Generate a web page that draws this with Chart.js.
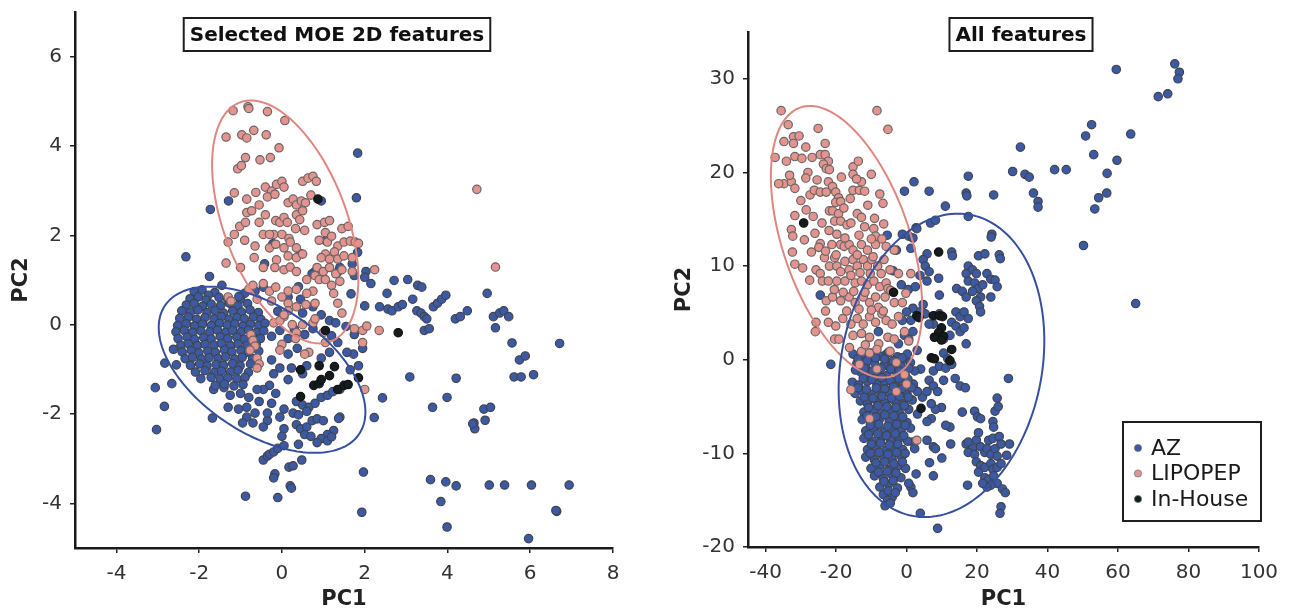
<!DOCTYPE html>
<html>
<head>
<meta charset="utf-8">
<title>PCA of compound sets</title>
<script src="https://cdn.jsdelivr.net/npm/chart.js@4.4.1/dist/chart.umd.min.js"></script>
<style>
  html, body { margin: 0; padding: 0; background: #fff; }
  #wrap { position: relative; width: 1289px; height: 612px; }
  .panel { position: absolute; top: 0; height: 612px; }
</style>
</head>
<body>
<div id="wrap">
  <div class="panel" style="left:0;width:640px"><canvas id="leftChart"></canvas></div>
  <div class="panel" style="left:640px;width:649px"><canvas id="rightChart"></canvas></div>
</div>
<script>
// ---- data: [PC1, PC2] ----
const seriesNames = ['AZ', 'LIPOPEP', 'In-House'];

const leftXTicks = [-4, -2, 0, 2, 4, 6, 8];
const leftYTicks = [-4, -2, 0, 2, 4, 6];
const rightXTicks = [-40, -20, 0, 20, 40, 60, 80, 100];
const rightYTicks = [-20, -10, 0, 10, 20, 30];

// ellipse = [centre, half-axis u, half-axis v] in data units
const leftLipoEllipse = [[0.08, 2.3], [-0.83, 2.72], [1.56, 0]];
const leftAZEllipse = [[-0.48, -1.01], [-1.27, 1.86], [2.15, 0]];
const rightLipoEllipse = [[-17.05, 12.6], [-10.35, 14.5], [18.8, 0]];
const rightAZEllipse = [[9.9, -0.6], [4.7, 16.2], [28.8, 0]];

const leftAZ = [
  [1.83,3.84],[1.80,2.84],[-1.73,2.58],[-1.29,2.77],[-2.32,1.52],[-1.75,1.08],[-1.45,0.88],
  [2.71,0.99],[3.04,1.01],[3.28,0.88],[3.38,0.84],[2.03,1.19],[2.15,0.92],[2.54,0.70],
  [2.36,0.40],[2.56,0.35],[2.66,0.31],[2.81,0.40],[2.91,0.45],[3.16,0.57],
  [3.26,0.31],[3.36,0.26],[3.44,0.18],[3.50,0.13],
  [3.66,0.40],[3.76,0.48],[3.86,0.57],[3.96,0.66],[3.44,-0.13],[3.56,-0.09],
  [4.19,0.13],[4.31,0.18],[4.48,0.31],[4.96,0.70],
  [5.11,0.18],[5.26,0.26],[5.36,0.31],[5.48,0.18],[5.16,-0.07],[5.56,-0.41],[6.71,-0.42],
  [5.74,-0.79],[5.88,-0.70],[5.61,-1.17],[5.78,-1.17],[6.08,-1.12],
  [4.21,-1.20],[3.09,-1.17],[3.64,-1.85],[3.99,-1.63],
  [4.64,-2.20],[4.66,-2.33],[4.91,-2.14],[4.61,-2.22],[4.88,-1.89],[5.04,-1.85],
  [2.43,-1.64],[2.23,-2.08],[1.97,-3.30],[1.93,-4.20],
  [3.59,-3.47],[3.96,-3.52],[4.21,-3.61],[5.01,-3.59],[5.38,-3.59],[6.03,-3.59],[6.94,-3.59],
  [3.84,-3.96],[3.99,-4.53],[6.64,-4.18],[6.62,-4.16],[5.96,-4.79],
  [-0.88,-3.84],[-0.10,-3.87],[0.20,-3.61],[0.23,-3.66],
  [-0.17,-3.34],[-0.20,-3.43],[0.17,-3.19],[0.27,-3.16],[0.48,-3.03],
  [-0.45,-3.03],[-0.35,-2.94],[-0.30,-2.90],[-0.20,-2.85],[-0.10,-2.77],[0.05,-2.71],[0.40,-2.68],
  [-3.06,-1.41],[-3.03,-2.35],[-2.84,-1.83],[-2.83,-0.86],[-2.66,-1.32],[-1.68,-2.09],
  [0.95,2.77],[1.10,1.93],[1.40,1.28],[1.70,1.36],[1.75,1.10],[2.00,1.06],[0.80,1.19],
  [-0.42,1.36],[-0.22,1.81],[0.44,1.59],[0.73,1.14],[1.06,1.88],[1.34,1.17],[1.83,1.62],[1.67,0.69],[2.00,0.42],
  [-0.45,0.84],[-0.65,0.75],[-0.90,0.70],[-1.00,0.57],[0.15,0.62],[0.45,0.57],[0.75,0.40],[0.50,0.26],
  [0.95,0.22],[1.15,0.09],[0.75,-0.09],[0.55,-0.22],[1.30,0.04],[1.55,-0.04],[1.75,-0.22],
  [1.95,-0.53],[1.73,-0.66],[1.85,-0.92],[1.20,-0.25],[0.30,-0.10],[-0.10,0.30],[0.40,0.85],
  [-0.05,-0.13],[-0.25,-0.26],[0.15,-0.31],[0.37,-0.53],[0.15,-0.66],[-0.25,-0.79],[-0.05,-0.97],
  [0.23,-0.97],[-0.20,-1.10],[0.15,-1.23],[-0.30,-1.36],[-0.45,-1.45],[-0.15,-1.54],[0.50,-1.10],
  [0.60,-0.92],[0.95,-0.75],[1.15,-0.62],[1.35,-0.40],[1.57,-0.62],[1.65,-1.01],
  [1.40,-2.07],[1.37,-2.10],[1.25,-2.37],[1.10,-2.46],[0.95,-2.55],[0.85,-2.64],
  [0.35,-1.72],[0.50,-1.80],[0.65,-1.85],[0.80,-1.76],[0.95,-1.63],[1.10,-1.58],[1.23,-1.50],[1.40,-1.45],
  [0.27,-1.98],[0.40,-2.02],[0.60,-1.94],[0.35,-2.24],[0.45,-2.33],[0.60,-2.29],[0.73,-2.15],
  [0.85,-2.11],[1.00,-2.15],[0.55,-2.46],[0.70,-2.50],[1.10,-2.60],[1.20,-2.51],
  [0.05,-2.33],[0.00,-2.50],[-0.35,-2.15],[-0.45,-2.29],[-0.85,-2.07],[-0.65,-1.98],[-0.70,-2.20],
  [-1.30,-1.85],[-1.05,-1.89],[-0.85,-1.85],[-1.25,-1.58],[-1.00,-1.54],[-0.80,-1.63],[-0.60,-1.45],
  [-1.40,-1.41],[-1.65,-1.45],[-0.25,-1.76],[-0.35,-1.98],[-0.95,-2.20],[0.05,-1.89],[-0.05,-2.07],[-0.55,-1.72],
  [-2.12,0.74],[-1.93,0.78],[-1.62,0.72],[-1.78,0.66],
  [-2.22,0.58],[-2.02,0.62],[-1.83,0.55],[-1.52,0.61],[-1.31,0.57],[-1.04,0.63],
  [-2.31,0.44],[-2.12,0.47],[-1.92,0.41],[-1.71,0.46],[-1.48,0.43],[-1.27,0.48],[-1.06,0.42],[-0.83,0.47],
  [-2.42,0.31],[-2.21,0.28],[-2.03,0.33],[-1.81,0.27],[-1.62,0.32],[-1.41,0.26],[-1.19,0.31],[-0.98,0.28],[-0.77,0.33],[-0.57,0.27],
  [-2.47,0.14],[-2.26,0.17],[-2.06,0.12],[-1.86,0.16],[-1.64,0.13],[-1.46,0.18],[-1.28,0.12],[-1.09,0.16],[-0.91,0.13],[-0.69,0.17],[-0.51,0.12],
  [-2.52,-0.02],[-2.31,0.02],[-2.11,-0.03],[-1.92,0.01],[-1.71,-0.02],[-1.51,0.03],[-1.32,-0.01],[-1.14,0.02],[-0.94,-0.03],[-0.76,0.01],[-0.56,-0.02],[-0.41,0.03],
  [-2.56,-0.16],[-2.36,-0.13],[-2.16,-0.17],[-1.96,-0.14],[-1.74,-0.16],[-1.56,-0.12],[-1.36,-0.17],[-1.19,-0.13],[-0.99,-0.16],[-0.81,-0.12],[-0.61,-0.17],[-0.44,-0.14],
  [-2.51,-0.31],[-2.29,-0.28],[-2.11,-0.33],[-1.89,-0.29],[-1.71,-0.32],[-1.49,-0.27],[-1.31,-0.31],[-1.09,-0.28],[-0.91,-0.33],[-0.69,-0.29],[-0.52,-0.31],
  [-2.44,-0.46],[-2.26,-0.43],[-2.04,-0.47],[-1.86,-0.44],[-1.64,-0.46],[-1.46,-0.42],[-1.24,-0.47],[-1.06,-0.43],[-0.84,-0.46],[-0.62,-0.44],
  [-2.41,-0.61],[-2.19,-0.58],[-2.01,-0.63],[-1.79,-0.59],[-1.61,-0.62],[-1.39,-0.57],[-1.21,-0.61],[-0.99,-0.58],[-0.81,-0.62],[-0.56,-0.59],
  [-2.34,-0.76],[-2.16,-0.73],[-1.94,-0.77],[-1.76,-0.74],[-1.54,-0.76],[-1.36,-0.72],[-1.14,-0.77],[-0.96,-0.73],[-0.71,-0.76],
  [-2.21,-0.91],[-1.99,-0.88],[-1.81,-0.92],[-1.59,-0.89],[-1.41,-0.91],[-1.19,-0.87],[-1.01,-0.92],[-0.76,-0.88],
  [-2.09,-1.06],[-1.86,-1.03],[-1.64,-1.07],[-1.46,-1.04],[-1.24,-1.06],[-1.06,-1.02],[-0.81,-1.07],
  [-1.96,-1.21],[-1.71,-1.18],[-1.49,-1.22],[-1.31,-1.19],[-1.09,-1.21],[-0.89,-1.18],
  [-1.61,-1.36],[-1.39,-1.33],[-1.16,-1.37],[-0.94,-1.34],[-2.62,-0.55],[-2.55,-0.90]
];

const leftLipo = [
  [-1.18,4.79],[-0.82,4.88],[-0.80,4.84],[-0.35,4.77],[0.07,4.57],
  [-1.35,4.20],[-0.97,4.25],[-0.85,4.18],[-0.68,4.35],[-0.38,4.25],[-0.07,3.96],
  [-1.07,3.49],[-0.98,3.56],[-0.88,3.74],[-0.53,3.69],[-0.28,3.74],
  [-1.15,2.95],[-0.85,2.81],[-0.63,2.96],[-0.40,3.08],[-0.25,2.99],[-0.13,3.14],[0.00,3.21],[0.05,3.08],
  [0.50,3.21],[0.63,3.28],[0.75,3.32],[0.83,3.21],[-0.35,2.86],[-0.17,2.92],
  [0.15,2.73],[0.27,2.81],[0.35,2.68],[0.47,2.77],[0.57,2.73],[0.70,2.90],
  [-0.85,2.51],[-0.73,2.55],[-0.55,2.68],[-1.15,2.02],[-1.30,1.85],[-0.90,1.89],
  [-1.02,2.20],[-0.88,2.29],[-0.55,2.29],[-0.40,2.46],
  [-0.15,2.33],[-0.05,2.29],[0.05,2.40],[0.13,2.29],[0.35,2.46],[0.50,2.55],[0.43,2.35],
  [0.55,2.11],[0.33,2.15],[-0.20,2.02],[0.00,2.02],[0.17,1.93],[-0.45,2.02],[-0.30,2.02],
  [-0.65,1.76],[-0.30,1.72],[-0.15,1.80],[0.05,1.72],[0.20,1.85],[0.35,1.72],
  [0.15,1.54],[0.35,1.50],[0.50,1.58],[-0.67,1.50],[-1.35,1.38],[-1.00,1.28],
  [-0.45,1.28],[-0.13,1.45],[-0.17,1.28],[0.05,1.23],[0.20,1.29],[0.60,1.01],[0.35,1.19],
  [0.85,2.24],[1.03,2.29],[1.15,2.33],[1.05,2.06],[0.90,1.89],[1.10,1.85],[1.20,1.98],
  [1.35,1.76],[1.50,1.85],[1.65,1.87],[1.77,1.85],[1.45,2.15],[1.60,2.20],
  [1.27,1.63],[1.05,1.58],[1.15,1.47],[0.95,1.50],[1.35,1.47],[1.50,1.54],
  [0.85,1.28],[1.00,1.19],[1.15,1.28],[1.30,1.14],[1.45,1.23],[1.70,1.19],
  [0.80,1.10],[0.90,1.01],[1.05,1.01],[1.20,0.88],[1.40,0.97],
  [1.70,1.50],[2.24,1.23],[1.85,1.82],[1.35,0.48],[1.45,0.26],[1.25,0.70],
  [0.75,0.75],[0.60,0.70],[0.35,0.79],[0.15,0.75],[-0.30,0.75],[-0.15,0.84],[0.00,0.62],
  [-0.25,0.53],[0.15,0.48],[0.35,0.40],[0.58,0.45],[0.80,0.48],
  [0.15,0.31],[0.05,0.18],[0.25,0.00],[0.50,0.00],[0.75,0.04],[0.80,0.13],
  [1.00,-0.18],[1.05,-0.40],[0.35,-0.18],[0.33,-0.31],[0.65,-0.62],[0.55,-0.66],
  [-0.80,0.79],[-0.70,0.88],[-0.60,0.57],[-0.45,0.92],[-1.30,0.62],[-1.23,0.53],
  [-0.75,-0.22],[-0.70,-0.35],[-0.65,-0.48],[-0.77,-0.57],[-0.60,-0.75],[-0.55,-0.88],[-0.60,-0.97],
  [0.00,-0.44],[-0.05,-0.57],[-0.20,0.04],[-0.05,0.09],[0.05,0.22],
  [1.95,-0.13],[2.05,-0.03],[1.75,-0.09],[1.95,-0.40],[2.35,-0.13],[2.00,-1.45],
  [4.71,3.03],[5.16,1.29]
];

const leftInHouse = [
  [0.87,2.81],[1.05,-0.13],[2.81,-0.18],[0.45,-1.01],[0.90,-0.92],[1.27,-0.94],[1.15,-1.14],
  [1.85,-1.19],[0.77,-1.36],[0.90,-1.32],[0.95,-1.23],[1.35,-1.45],[1.50,-1.36],[1.60,-1.34],[0.45,-1.61]
];

const rightAZ = [
  [59.5,31.0],[76.1,31.6],[77.4,30.7],[77.0,30.0],[71.4,28.1],[74.1,28.4],[52.5,25.1],[50.8,23.9],
  [63.6,24.1],[32.3,22.7],[53.1,21.9],[59.7,21.3],[30.1,20.1],[33.6,19.8],[34.8,19.5],[42.0,20.3],
  [45.3,20.3],[56.9,19.9],[36.0,17.8],[37.3,16.9],[37.3,16.3],[56.8,17.8],[54.5,17.3],[53.4,16.1],
  [50.2,12.2],[65.0,6.0],[17.5,19.6],[16.9,17.8],[17.1,17.5],[24.7,17.6],[6.4,18.0],[2.1,19.0],
  [-0.6,18.0],[11.0,16.4],[17.5,15.3],[6.8,14.6],[8.2,14.9],[2.7,14.1],[-24.5,6.9],[-21.5,-0.5],
  [28.9,-2.0],[8.8,-18.0],[3.9,-16.4],[26.8,-15.7],[26.5,-16.4],
  [-2.9,11.7],[1.2,11.9],[-1.2,13.4],[0.6,13.2],[1.8,13.0],[2.9,14.0],
  [5.8,11.3],[4.7,10.7],[5.3,10.0],[6.4,9.4],[5.8,8.4],[9.1,8.7],[9.3,6.9],[12.8,11.5],[13.0,11.1],
  [14.2,7.6],[15.8,7.3],[16.9,6.7],[14.0,5.1],[15.2,4.6],[16.3,5.1],[17.5,4.4],
  [12.8,4.0],[14.0,3.6],[15.2,3.0],[16.3,3.4],[16.9,1.7],[10.5,2.2],[12.3,2.6],[9.3,4.9],[7.6,3.8],
  [4.7,5.9],[3.5,5.1],[5.3,4.9],[6.4,3.8],[1.8,5.5],[0.0,5.1],[1.2,4.2],[-1.2,4.2],
  [-0.6,2.6],[-2.3,1.7],[0.6,2.2],[1.8,3.0],[10.5,0.7],[11.7,0.1],
  [-5.5,13.3],[-3.8,9.5],[-1.5,8.0],[0.5,7.5],[2.5,7.8],[3.8,9.0],[-8.0,3.0],[-6.0,0.5],
  [-1.0,0.0],[3.0,1.0],[4.0,-1.0],[2.0,-3.0],[4.5,-4.0],[10.0,-10.5],[12.5,-9.0],[6.5,-11.0],
  [7.6,-1.2],[9.3,-0.7],[11.1,-0.9],[12.8,-0.5],[6.4,-2.2],[10.5,-2.2],[13.8,-2.0],[15.2,-2.8],[16.7,-3.0],
  [7.6,-2.8],[5.8,-3.4],[8.8,-3.4],[9.9,-5.1],[8.2,-5.3],[7.0,-4.7],[12.3,-7.2],[11.1,-7.0],[15.8,-5.6],
  [7.0,-6.3],[5.8,-6.6],[5.8,-8.6],[7.6,-9.3],[8.2,-9.5],[1.8,-8.8],[2.3,-9.5],
  [2.7,-12.2],[7.6,-12.4],[1.2,-13.6],[1.8,-14.2],[0.6,-13.2],
  [24.2,13.4],[24.0,13.1],[26.3,11.2],[26.6,10.8],[20.4,11.1],[22.2,11.3],
  [17.5,10.0],[18.7,9.6],[16.9,9.2],[19.8,9.2],[22.8,9.2],[23.9,8.6],[25.1,8.5],[25.7,7.8],
  [17.5,8.4],[19.3,8.2],[20.4,7.6],[18.7,7.3],[21.0,6.7],[19.8,6.3],[20.7,5.7],[21.0,5.1],[23.9,6.7],[21.6,8.0],
  [19.3,-5.5],[20.1,-6.1],[21.0,-6.3],[24.5,-6.6],[24.7,-7.2],[25.1,-5.5],[25.7,-4.1],[26.0,-5.0],
  [23.3,-8.6],[24.5,-8.4],[26.3,-8.2],[16.9,-9.0],[17.5,-8.8],[18.7,-9.5],[19.8,-8.6],[20.4,-7.8],[21.0,-9.3],
  [17.5,-9.9],[19.3,-10.1],[22.2,-9.9],[22.8,-9.5],[23.9,-10.1],[25.1,-9.5],[25.7,-10.3],
  [26.8,-9.0],[29.2,-9.0],[28.4,-10.2],[19.8,-10.9],[21.0,-11.3],[22.2,-11.5],[20.4,-12.0],
  [23.9,-11.1],[24.5,-11.7],[25.7,-11.5],[26.8,-11.1],[22.2,-12.6],[23.3,-12.8],[24.7,-12.4],[25.7,-13.2],
  [23.9,-13.4],[22.8,-13.6],[21.6,-13.2],[17.3,-13.4],[27.2,-13.8],[28.0,-14.2],
  [-15.2,0.6],[-12.4,0.3],[-10.1,0.7],[-7.6,0.4],[-5.1,0.8],[-2.6,0.3],[0.2,0.6],
  [-14.1,-0.4],[-11.6,-0.7],[-9.1,-0.3],[-6.4,-0.6],[-4.1,-0.4],[-1.6,-0.7],[1.1,-0.3],
  [-13.1,-1.3],[-10.4,-1.6],[-7.9,-1.4],[-5.6,-1.7],[-2.9,-1.3],[-0.4,-1.6],[2.3,-1.2],
  [-15.4,-2.4],[-13.6,-2.7],[-11.1,-2.3],[-8.4,-2.6],[-6.1,-2.4],[-3.4,-2.7],[-1.1,-2.3],[1.9,-2.6],
  [-14.6,-3.6],[-12.6,-3.3],[-9.9,-3.7],[-7.4,-3.4],[-4.9,-3.6],[-2.6,-3.3],[0.1,-3.7],[3.1,-3.4],
  [-13.1,-4.4],[-11.1,-4.7],[-8.6,-4.3],[-6.1,-4.6],[-3.4,-4.4],[-0.9,-4.7],[1.6,-4.3],
  [-12.1,-5.6],[-9.4,-5.3],[-7.1,-5.7],[-4.4,-5.4],[-2.1,-5.6],[0.6,-5.3],[3.1,-5.8],
  [-12.6,-6.4],[-10.1,-6.7],[-7.6,-6.3],[-4.9,-6.6],[-2.4,-6.4],[0.1,-6.7],
  [-11.6,-7.6],[-9.1,-7.3],[-6.4,-7.7],[-3.9,-7.4],[-1.6,-7.6],[1.1,-7.3],
  [-12.1,-8.4],[-9.6,-8.7],[-7.1,-8.3],[-4.6,-8.6],[-2.1,-8.4],[0.3,-8.7],
  [-11.1,-9.6],[-8.6,-9.3],[-5.9,-9.7],[-3.6,-9.4],[-1.1,-9.6],
  [-11.6,-10.4],[-9.1,-10.7],[-6.6,-10.3],[-4.1,-10.6],[-1.4,-10.4],
  [-10.1,-11.6],[-7.6,-11.3],[-4.9,-11.7],[-2.6,-11.4],[-0.3,-11.6],
  [-9.1,-12.4],[-6.6,-12.7],[-4.1,-12.3],[-1.6,-12.6],[-7.6,-13.6],[-5.1,-13.3],[-2.6,-13.7],
  [-6.6,-14.4],[-4.1,-14.7],[-5.4,-15.0],[-6.1,-15.6],[-4.6,-15.3],
  [-13.8,0.1],[-11.2,-0.1],[-8.8,0.2],[-6.3,0.1],[-3.8,-0.1],[-1.3,0.2],
  [-14.5,-1.1],[-12.0,-0.9],[-9.6,-1.2],[-7.2,-0.9],[-4.5,-1.0],[-2.0,-1.2],[0.6,-0.9],
  [-12.3,-2.0],[-9.8,-2.1],[-7.1,-1.9],[-4.6,-2.2],[-2.2,-2.0],[0.4,-2.1],
  [-13.8,-3.0],[-11.4,-3.2],[-8.6,-3.0],[-6.2,-3.1],[-3.7,-2.9],[-1.3,-3.1],[1.4,-3.0],
  [-12.0,-4.0],[-9.5,-4.1],[-7.0,-3.9],[-4.3,-4.1],[-2.0,-3.9],[0.5,-4.0],
  [-10.8,-5.1],[-8.1,-4.9],[-5.6,-5.0],[-3.0,-5.1],[-0.6,-4.9],
  [-11.2,-6.0],[-8.7,-6.1],[-6.2,-5.9],[-3.6,-6.0],[-1.1,-6.1],
  [-10.3,-7.0],[-7.9,-6.9],[-5.3,-7.1],[-2.8,-6.9],[-0.4,-7.0],
  [-10.8,-8.0],[-8.2,-7.9],[-5.7,-8.1],[-3.2,-7.9],[-0.8,-8.1],
  [-10.0,-9.0],[-7.4,-8.9],[-4.9,-9.1],[-2.5,-9.0],
  [-10.3,-10.0],[-7.8,-9.9],[-5.3,-10.1],[-2.8,-9.9],[-0.4,-10.0],
  [-8.7,-11.0],[-6.2,-10.9],[-3.6,-11.1],[-1.2,-10.9],
  [-8.0,-12.0],[-5.5,-11.9],[-3.0,-12.1],[-6.4,-13.0],[-3.8,-12.9],[-5.2,-14.0],[-3.2,-14.2]
];

const rightLipo = [
  [-35.6,26.6],[-8.4,26.6],[-33.6,25.1],[-25.1,24.7],[-5.3,24.6],
  [-32.1,23.8],[-34.8,23.3],[-32.1,23.1],[-23.1,23.1],[-28.6,22.7],[-37.3,21.6],[-34.1,21.2],
  [-31.7,21.7],[-29.7,21.5],[-24.5,21.9],[-23.1,21.9],[-22.2,21.2],[-23.6,20.9],[-22.8,20.4],
  [-15.2,20.6],[-13.7,21.2],[-15.2,19.8],[-34.8,18.8],[-32.7,19.0],[-31.7,18.3],[-33.2,19.7],
  [-28.0,20.0],[-28.6,19.4],[-25.4,19.2],[-21.9,20.3],[-22.2,19.0],[-21.0,18.5],
  [-27.4,17.6],[-26.2,18.1],[-24.5,17.9],[-22.8,17.9],[-20.1,17.9],[-19.3,17.3],[-20.1,16.8],[-18.7,16.9],
  [-15.2,18.1],[-13.4,18.1],[-11.9,18.0],[-12.8,19.0],[-14.2,19.3],[-7.6,17.7],[-6.7,16.7],
  [-21.9,15.9],[-21.0,15.9],[-19.3,15.6],[-20.4,14.8],[-18.7,14.8],[-16.9,14.4],[-15.8,14.6],
  [-14.0,15.6],[-12.8,15.2],[-9.1,15.1],[-11.9,14.2],
  [-31.7,15.4],[-32.7,13.9],[-32.3,13.2],[-32.4,11.5],[-31.7,10.2],[-24.5,12.4],[-24.9,12.0],
  [-19.8,13.4],[-21.2,12.3],[-18.7,12.3],[-17.7,12.1],[-16.3,12.3],[-15.2,11.7],[-12.8,12.3],[-11.1,11.7],
  [-9.3,14.0],[-8.8,13.2],[-8.8,12.3],[-7.0,12.9],[-5.8,12.1],[-3.5,11.7],
  [-25.7,9.6],[-24.5,9.2],[-23.3,10.9],[-21.9,10.0],[-20.4,10.9],[-19.8,10.0],[-18.7,9.4],[-17.5,10.5],
  [-16.3,9.6],[-15.2,10.7],[-14.0,10.0],[-12.3,10.7],[-11.1,10.0],[-9.9,10.7],
  [-8.2,10.0],[-6.4,10.7],[-4.7,9.6],[-2.3,9.2],[1.2,9.2],
  [-23.9,8.4],[-22.2,8.4],[-19.8,8.4],[-17.5,8.4],[-15.8,9.0],[-14.6,8.2],[-12.8,8.4],[-11.1,8.0],
  [-9.3,8.4],[-7.6,7.8],[-5.8,8.2],[-22.8,6.3],[-21.0,6.7],[-18.7,6.3],
  [-16.3,6.7],[-14.6,6.1],[-12.3,6.7],[-10.5,6.1],[-8.8,6.7],[-6.1,6.7],[-3.5,6.1],[-1.2,6.1],[-0.2,7.1],
  [-25.7,4.0],[-22.2,4.0],[-20.1,3.6],[-18.1,4.4],[-15.8,3.8],[-14.0,4.4],[-12.3,3.8],[-10.5,4.6],[-8.8,4.0],
  [-7.0,4.9],[-5.8,4.2],[-4.1,3.8],[-2.3,4.6],[-25.9,3.0],[-20.4,2.2],[-19.2,2.2],
  [-15.2,2.6],[-12.8,2.8],[-10.5,2.4],[-7.9,1.7],[-5.3,2.4],[-3.5,2.2],[-0.6,3.0],[0.6,2.0],
  [-12.8,0.9],[-10.5,0.7],[-8.4,1.1],[-13.4,-0.5],[-8.4,-1.0],[-4.7,0.9],[-2.9,-0.3],
  [-15.8,-3.2],[-2.9,-3.4],[0.0,-2.6],[-0.6,-1.6],[-10.5,-6.3],[2.9,-8.6],[-5.3,7.6],
  [-27.0,11.5],[-26.0,13.5],[-22.0,13.8],[-17.5,13.0],[-13.5,13.3],[-10.0,12.9],[-6.5,14.5],
  [-23.0,11.6],[-20.0,11.2],[-14.0,11.2],[-9.5,11.0],[-7.2,9.2],[-13.2,9.3],[-10.3,9.2],
  [-18.0,7.2],[-20.5,7.5],[-15.0,7.3],[-11.8,7.2],[-8.0,5.6],[-13.5,5.4],[-17.0,5.2],[-10.0,5.3],
  [-6.6,5.2],[-4.5,7.4],[-27.5,8.5],[-29.0,12.8],[-28.5,16.0],[-26.5,15.3],[-30.0,17.0],[-24.0,14.6],
  [-17.8,16.2],[-16.0,17.2],[-11.0,16.5],[-10.0,19.8],[-18.5,19.5],[-26.8,21.6],[-30.5,23.9],
  [-36.3,18.8],[-29.5,9.8],[-23.0,5.2],[-16.2,1.3],[-11.7,1.6]
];

const rightInHouse = [
  [-29.2,14.6],[-3.7,7.2],[2.9,4.7],[3.5,4.5],[7.6,4.7],[9.3,4.7],[10.2,4.6],[9.1,11.5],[9.9,3.4],
  [9.1,2.9],[7.9,2.4],[10.5,2.5],[9.9,2.1],[12.8,1.1],[7.0,0.2],[7.9,0.1],[12.3,-0.1],[4.1,-5.2]
];

// ---- styling ----
const FONT = '"DejaVu Sans", "Liberation Sans", Arial, sans-serif';
const colors = {
  AZ: { fill: '#3b5aa3', line: '#40444f' },
  LIPOPEP: { fill: '#e3948e', line: '#6c6465' },
  'In-House': { fill: '#141c1d', line: '#111' }
};
const ellipseColors = { AZ: '#3550a0', LIPOPEP: '#e08680' };

function toPoints(arr) {
  return arr.map(p => ({ x: p[0], y: p[1] }));
}

function dataset(name, arr, order) {
  return {
    label: name,
    data: toPoints(arr),
    backgroundColor: colors[name].fill,
    borderColor: colors[name].line,
    borderWidth: 1.2,
    pointRadius: 4.2,
    pointHoverRadius: 4.2,
    order: order
  };
}

// ellipses drawn through the chart's scales
const ellipsePlugin = {
  id: 'ellipses',
  afterDatasetsDraw(chart, args, opts) {
    if (!opts.items) return;
    const { ctx, scales } = chart;
    ctx.save();
    opts.items.forEach(item => {
      const [c, u, v] = item.shape;
      ctx.beginPath();
      for (let i = 0; i <= 200; i++) {
        const t = i / 200 * Math.PI * 2;
        const px = scales.x.getPixelForValue(c[0] + u[0] * Math.cos(t) + v[0] * Math.sin(t));
        const py = scales.y.getPixelForValue(c[1] + u[1] * Math.cos(t) + v[1] * Math.sin(t));
        if (i === 0) ctx.moveTo(px, py); else ctx.lineTo(px, py);
      }
      ctx.closePath();
      ctx.strokeStyle = item.color;
      ctx.lineWidth = 2;
      ctx.stroke();
    });
    ctx.restore();
  }
};

// boxed title inside the plot
const titleBoxPlugin = {
  id: 'titleBox',
  afterDraw(chart, args, o) {
    if (!o.text) return;
    const ctx = chart.ctx;
    ctx.save();
    ctx.font = 'bold 20px ' + FONT;
    const w = ctx.measureText(o.text).width + 12;
    const x = o.cx - w / 2;
    ctx.fillStyle = '#fff';
    ctx.fillRect(x, o.top, w, 33);
    ctx.lineWidth = 2;
    ctx.strokeStyle = '#1e1e1e';
    ctx.strokeRect(x, o.top, w, 33);
    ctx.fillStyle = '#111';
    ctx.textAlign = 'center';
    ctx.textBaseline = 'middle';
    ctx.fillText(o.text, o.cx, o.top + 17.5);
    ctx.restore();
  }
};

// boxed legend in the lower right corner
const legendBoxPlugin = {
  id: 'legendBox',
  afterDraw(chart, args, o) {
    if (!o.show) return;
    const ctx = chart.ctx;
    ctx.save();
    ctx.fillStyle = '#fff';
    ctx.fillRect(o.x, o.y, o.w, o.h);
    ctx.lineWidth = 2;
    ctx.strokeStyle = '#1e1e1e';
    ctx.strokeRect(o.x, o.y, o.w, o.h);
    ctx.font = '22px ' + FONT;
    ctx.textBaseline = 'middle';
    chart.data.datasets.forEach((ds, i) => {
      const cy = o.y + 26 + i * 25.5;
      ctx.beginPath();
      ctx.arc(o.x + 15, cy, 3.6, 0, Math.PI * 2);
      ctx.fillStyle = ds.backgroundColor;
      ctx.fill();
      ctx.lineWidth = 0.8;
      ctx.strokeStyle = '#777';
      ctx.stroke();
      ctx.fillStyle = '#1a1a1a';
      ctx.fillText(ds.label, o.x + 28, cy + 1);
    });
    ctx.restore();
  }
};

function axisOptions(min, max, ticks, fitSize, isX, titleText, titlePad, tickPad) {
  return {
    type: 'linear',
    min: min,
    max: max,
    afterBuildTicks: s => { s.ticks = ticks.map(v => ({ value: v })); },
    afterFit: s => {
      if (isX) s.height = fitSize; else s.width = fitSize;
      s.paddingTop = 0; s.paddingBottom = 0; s.paddingLeft = 0; s.paddingRight = 0;
    },
    grid: { display: true, drawOnChartArea: false, drawTicks: true, tickLength: 5, color: '#222', lineWidth: 1.5 },
    border: { display: true, color: '#1a1a1a', width: 2.5 },
    ticks: { color: '#333', padding: tickPad, font: { size: 20, family: FONT } },
    title: {
      display: true,
      text: titleText,
      color: '#222',
      font: { size: 21, weight: 'bold', family: FONT },
      padding: isX ? { top: 0, bottom: titlePad } : { top: titlePad, bottom: 0 }
    }
  };
}

function makeChart(id, sets, xr, yr, layout, extra) {
  return new Chart(document.getElementById(id), {
    type: 'scatter',
    data: {
      datasets: [
        dataset('AZ', sets[0], 3),
        dataset('LIPOPEP', sets[1], 2),
        dataset('In-House', sets[2], 1)
      ]
    },
    options: {
      responsive: true,
      maintainAspectRatio: false,
      animation: false,
      events: [],
      layout: { padding: layout.padding },
      scales: {
        x: axisOptions(xr[0], xr[1], xr[2], layout.xh, true, 'PC1', 0, 9),
        y: axisOptions(yr[0], yr[1], yr[2], layout.yw, false, 'PC2', layout.titlePad, layout.yTickPad)
      },
      plugins: Object.assign({
        legend: { display: false },
        tooltip: { enabled: false }
      }, extra)
    },
    plugins: [ellipsePlugin, titleBoxPlugin, legendBoxPlugin]
  });
}

makeChart('leftChart', [leftAZ, leftLipo, leftInHouse],
  [-5, 8, leftXTicks], [-5, 7, leftYTicks],
  { padding: { top: 12, right: 27, left: 0, bottom: 0 }, xh: 64, yw: 75, titlePad: 9, yTickPad: 8 },
  {
    ellipses: { items: [
      { shape: leftLipoEllipse, color: ellipseColors.LIPOPEP },
      { shape: leftAZEllipse, color: ellipseColors.AZ }
    ] },
    titleBox: { text: 'Selected MOE 2D features', cx: 337, top: 18 },
    legendBox: { show: false }
  });

makeChart('rightChart', [rightAZ, rightLipo, rightInHouse],
  [-45, 100, rightXTicks], [-20, 35, rightYTicks],
  { padding: { top: 32, right: 30, left: 0, bottom: 0 }, xh: 65, yw: 108, titlePad: 32, yTickPad: 8 },
  {
    ellipses: { items: [
      { shape: rightLipoEllipse, color: ellipseColors.LIPOPEP },
      { shape: rightAZEllipse, color: ellipseColors.AZ }
    ] },
    titleBox: { text: 'All features', cx: 381, top: 18 },
    legendBox: { show: true, x: 483, y: 422, w: 138, h: 99 }
  });
</script>
</body>
</html>
